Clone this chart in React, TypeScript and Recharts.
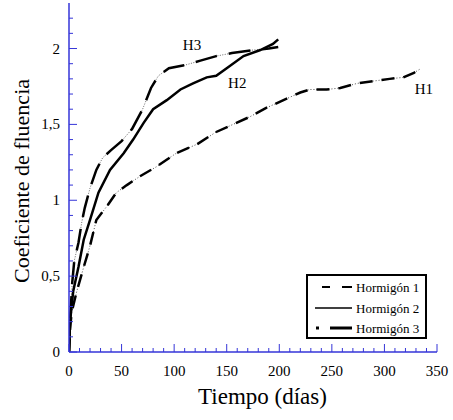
import React from 'react';
import {
  LineChart,
  Line,
  XAxis,
  YAxis,
  Legend,
  ReferenceDot,
} from 'recharts';

// Hormigón 1 (dash-dot, lowest curve)
const h1Days = [0, 1, 2.5, 7, 14, 20, 26, 36, 45, 55, 68, 83, 102, 122, 140, 156, 172, 188, 204, 220, 229, 245, 258, 274, 289, 305, 318, 328, 334];
const h1Values = [0, 0.15, 0.26, 0.39, 0.56, 0.7, 0.87, 0.96, 1.05, 1.1, 1.16, 1.22, 1.31, 1.37, 1.45, 1.5, 1.55, 1.61, 1.66, 1.71, 1.73, 1.73, 1.74, 1.77, 1.785, 1.8, 1.81, 1.84, 1.865];

// Hormigón 2 (solid)
const h2Days = [0, 1, 4, 9, 14, 20, 28, 39, 52, 61, 71, 80, 93, 106, 118, 131, 140, 150, 166, 182, 194, 199];
const h2Values = [0, 0.2, 0.4, 0.56, 0.74, 0.87, 1.05, 1.2, 1.31, 1.4, 1.51, 1.6, 1.66, 1.73, 1.77, 1.81, 1.82, 1.87, 1.95, 1.99, 2.03, 2.06];

// Hormigón 3 (dot + long dash, top curve)
const h3Days = [0, 1, 3, 5, 9, 12, 15, 20, 26, 32, 40, 50, 60, 70, 78, 85, 95, 110, 125, 140, 155, 175, 190, 199];
const h3Values = [0, 0.2, 0.45, 0.6, 0.72, 0.85, 0.95, 1.08, 1.2, 1.28, 1.33, 1.39, 1.47, 1.6, 1.74, 1.82, 1.87, 1.89, 1.92, 1.95, 1.97, 1.99, 2.0, 2.01];

const xTicks = [0, 10, 20, 30, 40, 50, 60, 70, 80, 90, 100, 110, 120, 130, 140, 150, 160, 170, 180, 190, 200, 210, 220, 230, 240, 250, 260, 270, 280, 290, 300, 310, 320, 330, 340, 350];
const yTicks = [0, 0.1, 0.2, 0.3, 0.4, 0.5, 0.6, 0.7, 0.8, 0.9, 1, 1.1, 1.2, 1.3, 1.4, 1.5, 1.6, 1.7, 1.8, 1.9, 2, 2.1, 2.2];

const curveLabels = [
  { text: 'H3', day: 117, value: 2.026 },
  { text: 'H2', day: 160, value: 1.776 },
  { text: 'H1', day: 337.6, value: 1.736 },
];

const legendNames = ['Hormigón 1', 'Hormigón 2', 'Hormigón 3'];

const toPoints = (days: number[], values: number[]) =>
  days.map((d, i) => ({ t: d, v: values[i] }));

const h1Data = toPoints(h1Days, h1Values);
const h2Data = toPoints(h2Days, h2Values);
const h3Data = toPoints(h3Days, h3Values);

const AXIS_BLUE = '#3535d8';
const FONT = '"Liberation Serif", "Times New Roman", serif';

const XTick = (props: any) => {
  const { x, y, payload } = props;
  const major = payload.value % 50 === 0;
  return (
    <g>
      <line x1={x} x2={x} y1={y} y2={y - (major ? 8 : 4)} stroke={AXIS_BLUE} strokeWidth={1} />
      {major && (
        <text x={x} y={y + 24} textAnchor="middle" fontFamily={FONT} fontSize={15} fill="#000">
          {payload.value}
        </text>
      )}
    </g>
  );
};

const YTick = (props: any) => {
  const { x, y, payload } = props;
  const tenths = Math.round(payload.value * 10);
  const major = tenths % 5 === 0;
  return (
    <g>
      <line x1={x} x2={x + (major ? 8 : 4)} y1={y} y2={y} stroke={AXIS_BLUE} strokeWidth={1} />
      {major && (
        <text x={x - 9} y={y + 5} textAnchor="end" fontFamily={FONT} fontSize={15} fill="#000">
          {String(payload.value).replace('.', ',')}
        </text>
      )}
    </g>
  );
};

const YTitle = () => (
  <text
    x={29}
    y={181}
    transform="rotate(-90, 29, 181)"
    textAnchor="middle"
    fontFamily={FONT}
    fontSize={22}
    fill="#000"
  >
    Coeficiente de fluencia
  </text>
);

const LegendBox = () => (
  <div
    style={{
      width: 117,
      height: 61,
      border: '2px solid #000',
      background: '#fff',
      position: 'relative',
    }}
  >
    <svg width={117} height={61} style={{ position: 'absolute', left: 0, top: 0 }}>
      <line x1={14} x2={22} y1={11} y2={11} stroke="#000" strokeWidth={2} />
      <line x1={34} x2={44} y1={11} y2={11} stroke="#000" strokeWidth={2} />
      <line x1={7} x2={44} y1={32} y2={32} stroke="#000" strokeWidth={1.5} />
      <line x1={8} x2={11} y1={52} y2={52} stroke="#000" strokeWidth={3} />
      <line x1={22} x2={44} y1={52} y2={52} stroke="#000" strokeWidth={3} />
      {legendNames.map((name, i) => (
        <text key={name} x={48} y={16 + i * 20.5} fontFamily={FONT} fontSize={13} fill="#000">
          {name}
        </text>
      ))}
    </svg>
  </div>
);

export default function App() {
  return (
    <div style={{ position: 'relative', width: 453, height: 420, background: '#fff' }}>
      <style>{'body{margin:0}'}</style>
      <LineChart
        width={453}
        height={420}
        margin={{ top: 3, right: 16, left: 0, bottom: 0 }}
        style={{ fontFamily: FONT }}
      >
        <XAxis
          xAxisId="main"
          dataKey="t"
          type="number"
          domain={[0, 350]}
          ticks={xTicks}
          interval={0}
          tickSize={0}
          tickMargin={0}
          tickLine={false}
          tick={<XTick />}
          height={68}
          axisLine={{ stroke: AXIS_BLUE, strokeWidth: 1.5 }}
          allowDataOverflow
        />
        <XAxis
          xAxisId="top"
          orientation="top"
          type="number"
          domain={[0, 350]}
          height={0}
          tick={false}
          tickLine={false}
          axisLine={{ stroke: AXIS_BLUE, strokeWidth: 1.5 }}
        />
        <YAxis
          yAxisId="main"
          type="number"
          domain={[0, 2.3]}
          ticks={yTicks}
          interval={0}
          tickSize={0}
          tickMargin={0}
          tickLine={false}
          tick={<YTick />}
          width={69}
          axisLine={{ stroke: AXIS_BLUE, strokeWidth: 1.5 }}
          allowDataOverflow
          label={{ content: <YTitle /> }}
        />
        <YAxis
          yAxisId="right"
          orientation="right"
          type="number"
          domain={[0, 2.3]}
          width={0}
          tick={false}
          tickLine={false}
          axisLine={{ stroke: AXIS_BLUE, strokeWidth: 1.5 }}
        />

        {/* Hormigón 1: thin line under thick dashes */}
        <Line xAxisId="main" yAxisId="main" data={h1Data} dataKey="v" type="linear" stroke="#000" strokeWidth={0.7} strokeDasharray="1 2" dot={false} isAnimationActive={false} />
        <Line xAxisId="main" yAxisId="main" data={h1Data} dataKey="v" type="linear" stroke="#000" strokeWidth={2.5} strokeDasharray="13 9" dot={false} isAnimationActive={false} />

        {/* Hormigón 2: solid */}
        <Line xAxisId="main" yAxisId="main" data={h2Data} dataKey="v" type="linear" stroke="#000" strokeWidth={2.5} dot={false} isAnimationActive={false} />

        {/* Hormigón 3: thin dotted under long thick dashes */}
        <Line xAxisId="main" yAxisId="main" data={h3Data} dataKey="v" type="linear" stroke="#000" strokeWidth={0.6} strokeDasharray="1 1.5" dot={false} isAnimationActive={false} />
        <Line xAxisId="main" yAxisId="main" data={h3Data} dataKey="v" type="linear" stroke="#000" strokeWidth={2.5} strokeDasharray="22 12" dot={false} isAnimationActive={false} />

        {curveLabels.map((l) => (
          <ReferenceDot
            key={l.text}
            xAxisId="main"
            yAxisId="main"
            x={l.day}
            y={l.value}
            r={0}
            fill="none"
            stroke="none"
            label={{ value: l.text, position: 'center', fontFamily: FONT, fontSize: 15, fill: '#000' }}
          />
        ))}

        <Legend
          layout="vertical"
          align="center"
          verticalAlign="middle"
          content={<LegendBox />}
          wrapperStyle={{ left: 306, top: 274, width: 121, height: 65 }}
        />
      </LineChart>
      <div
        style={{
          position: 'absolute',
          left: 0,
          top: 384,
          width: 525,
          textAlign: 'center',
          fontFamily: FONT,
          fontSize: 23,
          color: '#000',
          lineHeight: '26px',
        }}
      >
        Tiempo (días)
      </div>
    </div>
  );
}
